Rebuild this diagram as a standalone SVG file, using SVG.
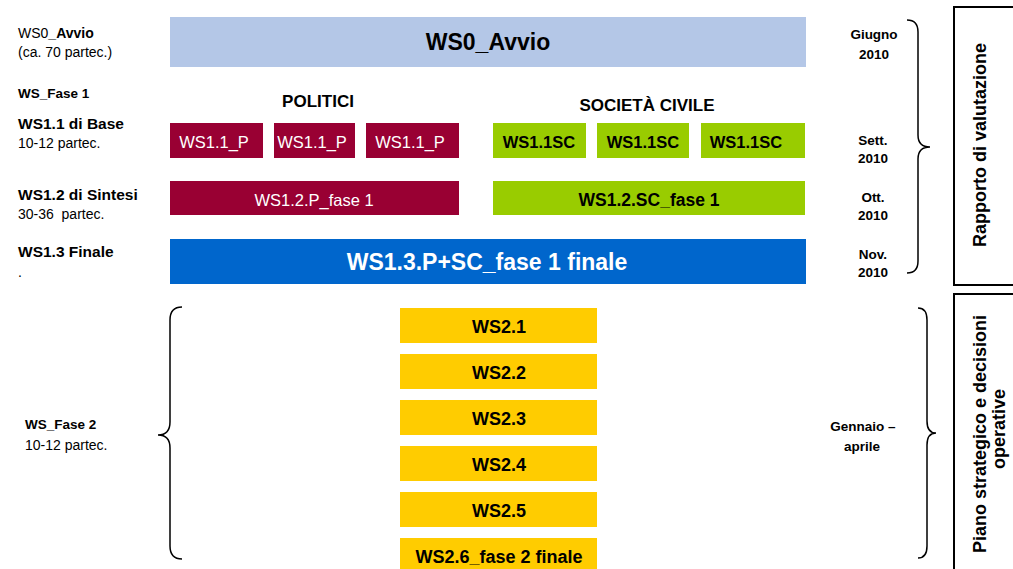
<svg xmlns="http://www.w3.org/2000/svg" width="1013" height="569" viewBox="0 0 1013 569">
<style>
text{font-family:"Liberation Sans",Arial,sans-serif;}
.b{font-weight:bold;}
.lbl{font-size:15.5px;font-weight:bold;fill:#000;}
.sm{font-size:14px;fill:#000;}
.date{font-size:13.5px;font-weight:bold;fill:#000;text-anchor:middle;}
.brace{fill:none;stroke:#000;stroke-width:1.5;}
.frame{fill:none;stroke:#000;stroke-width:2;}
.p{fill:#990033;}
.sc{fill:#99cc00;}
.y{fill:#ffcc00;}
.wt{fill:#fff;font-size:16.5px;text-anchor:middle;}
.bt{fill:#000;font-weight:bold;text-anchor:middle;}
.rot{font-size:18px;font-weight:bold;fill:#000;text-anchor:middle;}
</style>

<!-- left labels -->
<g id="left-labels">
<text class="sm" x="18" y="38">WS0<tspan class="b">_Avvio</tspan></text>
<text class="sm" x="18" y="57">(ca. 70 partec.)</text>
<text class="b" x="18" y="98" font-size="13.5">WS_Fase 1</text>
<text class="lbl" x="18" y="129">WS1.1 di Base</text>
<text class="sm" x="18" y="148" font-size="14.5">10-12 partec.</text>
<text class="lbl" x="18" y="200">WS1.2 di Sintesi</text>
<text class="sm" x="18" y="219" font-size="14.5" xml:space="preserve">30-36  partec.</text>
<text class="lbl" x="18" y="257">WS1.3 Finale</text>
<text class="sm" x="18" y="277">.</text>
<text class="b" x="25" y="429" font-size="13.5">WS_Fase 2</text>
<text class="sm" x="25" y="450" font-size="13.5">10-12 partec.</text>
</g>

<!-- column headers -->
<g id="headers">
<text class="bt" x="318" y="107" font-size="17">POLITICI</text>
<text class="bt" x="647" y="111" font-size="17">SOCIETÀ CIVILE</text>
</g>

<g id="ws0">
<rect x="170" y="17" width="636" height="50" fill="#b4c7e7"/>
<text class="bt" x="488" y="50" font-size="23">WS0_Avvio</text>
</g>

<g id="ws11p-1"><rect class="p" x="170" y="123" width="93" height="35"/><text class="wt" x="214" y="148">WS1.1_P</text></g>
<g id="ws11p-2"><rect class="p" x="274" y="123" width="81" height="35"/><text class="wt" x="312" y="148">WS1.1_P</text></g>
<g id="ws11p-3"><rect class="p" x="366" y="123" width="93" height="35"/><text class="wt" x="410" y="148">WS1.1_P</text></g>

<g id="ws11sc-1"><rect class="sc" x="493" y="123" width="93" height="35"/><text class="bt" x="539" y="148" font-size="16.5">WS1.1SC</text></g>
<g id="ws11sc-2"><rect class="sc" x="597" y="123" width="92" height="35"/><text class="bt" x="643" y="148" font-size="16.5">WS1.1SC</text></g>
<g id="ws11sc-3"><rect class="sc" x="701" y="123" width="104" height="35"/><text class="bt" x="746" y="148" font-size="16.5">WS1.1SC</text></g>

<g id="ws12p"><rect class="p" x="170" y="181" width="289" height="34"/><text class="wt" x="314" y="206" font-size="18.5">WS1.2.P_fase 1</text></g>
<g id="ws12sc"><rect class="sc" x="493" y="181" width="312" height="34"/><text class="bt" x="649" y="206" font-size="17.5">WS1.2.SC_fase 1</text></g>

<g id="ws13">
<rect x="170" y="239" width="636" height="45" fill="#0066cc"/>
<text class="bt" x="487" y="270" font-size="23" style="fill:#fff">WS1.3.P+SC_fase 1 finale</text>
</g>

<g id="ws21"><rect class="y" x="400" y="308" width="197" height="35"/><text class="bt" x="499" y="333" font-size="18">WS2.1</text></g>
<g id="ws22"><rect class="y" x="400" y="354" width="197" height="35"/><text class="bt" x="499" y="379" font-size="18">WS2.2</text></g>
<g id="ws23"><rect class="y" x="400" y="400" width="197" height="35"/><text class="bt" x="499" y="425" font-size="18">WS2.3</text></g>
<g id="ws24"><rect class="y" x="400" y="446" width="197" height="35"/><text class="bt" x="499" y="471" font-size="18">WS2.4</text></g>
<g id="ws25"><rect class="y" x="400" y="492" width="197" height="35"/><text class="bt" x="499" y="517" font-size="18">WS2.5</text></g>
<g id="ws26"><rect class="y" x="400" y="538" width="197" height="35"/><text class="bt" x="499" y="563" font-size="18">WS2.6_fase 2 finale</text></g>

<!-- dates -->
<g id="dates">
<text class="date" x="874" y="39">Giugno</text>
<text class="date" x="874" y="59">2010</text>
<text class="date" x="873" y="145">Sett.</text>
<text class="date" x="873" y="163">2010</text>
<text class="date" x="873" y="202">Ott.</text>
<text class="date" x="873" y="220">2010</text>
<text class="date" x="873" y="259">Nov.</text>
<text class="date" x="873" y="277">2010</text>
<text class="date" x="863" y="431">Gennaio –</text>
<text class="date" x="862" y="451">aprile</text>
</g>

<!-- braces -->
<g id="braces">
<path class="brace" d="M907,20 Q918,20 918,32 L918,135 Q918,147 930,147 Q918,147 918,159 L918,261 Q918,273 907,273"/>
<path class="brace" d="M182,307 Q170,307 170,320 L170,422 Q170,435 158,435 Q170,435 170,448 L170,546 Q170,559 182,559"/>
<path class="brace" d="M918,308 Q927,308 927,320 L927,421 Q927,433 936,433 Q927,433 927,445 L927,546 Q927,558 918,558"/>
</g>

<g id="rapporto">
<rect class="frame" x="954" y="7" width="70" height="278"/>
<text class="rot" transform="translate(986,145) rotate(-90)">Rapporto di valutazione</text>
</g>

<g id="piano">
<rect class="frame" x="954" y="294" width="70" height="290"/>
<text class="rot" transform="translate(986,434) rotate(-90)">Piano strategico e decisioni</text>
<text class="rot" transform="translate(1005,429) rotate(-90)">operative</text>
</g>
</svg>
